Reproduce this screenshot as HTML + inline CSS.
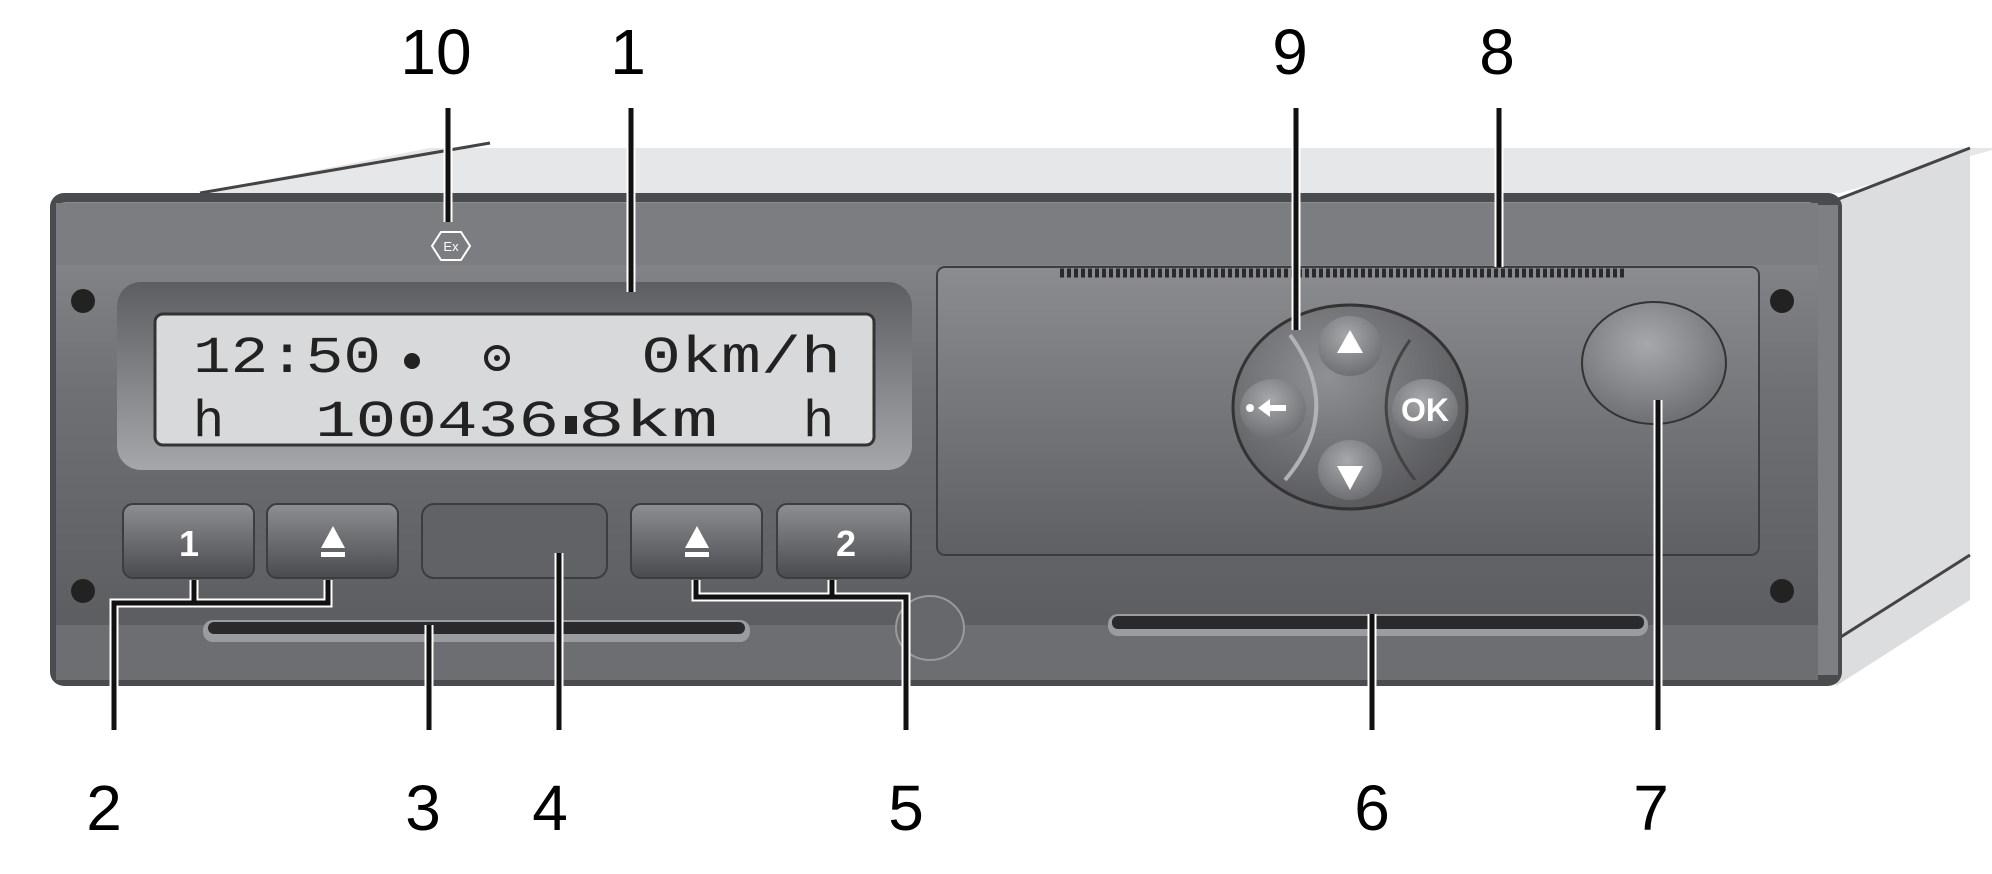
<!DOCTYPE html>
<html><head><meta charset="utf-8"><style>
html,body{margin:0;padding:0;background:#fff;}
svg{display:block}
.lbl{font-family:"Liberation Sans",sans-serif;}
.lcd{font-family:"Liberation Mono",monospace;}
</style></head><body>
<svg width="1992" height="874" viewBox="0 0 1992 874" xmlns="http://www.w3.org/2000/svg">
<defs>
<linearGradient id="face" x1="0" y1="0" x2="0" y2="1">
<stop offset="0" stop-color="#8a8c90"/><stop offset="0.4" stop-color="#6e7074"/><stop offset="1" stop-color="#58595c"/>
</linearGradient>
<linearGradient id="bez" x1="0" y1="0" x2="0" y2="1">
<stop offset="0" stop-color="#5c5e62"/><stop offset="1" stop-color="#a5a7aa"/>
</linearGradient>
<linearGradient id="btn" x1="0" y1="0" x2="0" y2="1">
<stop offset="0" stop-color="#8c8e92"/><stop offset="1" stop-color="#4a4b4e"/>
</linearGradient>
<linearGradient id="pan" x1="0" y1="0" x2="0" y2="1">
<stop offset="0" stop-color="#8a8c90"/><stop offset="1" stop-color="#5e6064"/>
</linearGradient>
<radialGradient id="kp" cx="0.4" cy="0.35" r="0.7">
<stop offset="0" stop-color="#8e9094"/><stop offset="1" stop-color="#56575a"/>
</radialGradient>
<radialGradient id="kb" cx="0.45" cy="0.35" r="0.7">
<stop offset="0" stop-color="#a6a8ab"/><stop offset="1" stop-color="#6a6b6e"/>
</radialGradient>
</defs>
<polygon points="200,193 430,148 1992,148 1992,150 1840,193" fill="#e6e7e8"/>
<line x1="200" y1="193" x2="490" y2="143" stroke="#444" stroke-width="3"/>
<polygon points="1836,200 1970,148 1970,600 1836,686" fill="#dcdddf"/>
<line x1="1836" y1="200" x2="1970" y2="148" stroke="#444" stroke-width="3"/>
<line x1="1836" y1="640" x2="1970" y2="555" stroke="#444" stroke-width="3"/>
<rect x="50" y="193" width="1792" height="493" rx="14" fill="#4a4b4e"/>
<rect x="56" y="202" width="1762" height="478" rx="10" fill="url(#face)"/>
<rect x="56" y="203" width="1762" height="62" fill="#7b7d81"/>
<rect x="56" y="625" width="1762" height="55" fill="#6c6e72"/>
<rect x="1818" y="205" width="20" height="470" fill="#7d7f83"/>
<circle cx="83" cy="301" r="12" fill="#222"/><circle cx="83" cy="591" r="12" fill="#222"/>
<circle cx="1782" cy="301" r="12" fill="#222"/><circle cx="1782" cy="591" r="12" fill="#222"/>
<polygon points="441,232 461,232 470,246 461,260 441,260 432,246" fill="none" stroke="#fff" stroke-width="2"/>
<text class="lbl" x="451" y="251" font-size="13" fill="#fff" text-anchor="middle">Ex</text>
<rect x="117" y="282" width="795" height="188" rx="24" fill="url(#bez)"/>
<rect x="155" y="314" width="719" height="131" rx="8" fill="#d8d9da" stroke="#333" stroke-width="3"/>
<g class="lcd" fill="#222" font-size="52">
<text x="193" y="372" textLength="188" lengthAdjust="spacingAndGlyphs">12:50</text>
<text x="641" y="372" textLength="200" lengthAdjust="spacingAndGlyphs">0km/h</text>
<text x="193" y="436">h</text>
<text x="315" y="436" textLength="244" lengthAdjust="spacingAndGlyphs">100436</text>
<text x="578" y="436" textLength="140" lengthAdjust="spacingAndGlyphs">8km</text>
<text x="803" y="436">h</text>
</g>
<circle cx="412" cy="361" r="8" fill="#222"/>
<circle cx="497" cy="358" r="11" fill="none" stroke="#222" stroke-width="4"/>
<circle cx="497" cy="358" r="3" fill="#222"/>
<rect x="565" y="416" width="12" height="18" fill="#222"/>
<rect x="123" y="504" width="131" height="74" rx="10" fill="url(#btn)" stroke="#3c3d40" stroke-width="2"/>
<rect x="267" y="504" width="131" height="74" rx="10" fill="url(#btn)" stroke="#3c3d40" stroke-width="2"/>
<rect x="422" y="504" width="185" height="74" rx="12" fill="#616266" stroke="#3c3d40" stroke-width="2"/>
<rect x="631" y="504" width="131" height="74" rx="10" fill="url(#btn)" stroke="#3c3d40" stroke-width="2"/>
<rect x="777" y="504" width="134" height="74" rx="10" fill="url(#btn)" stroke="#3c3d40" stroke-width="2"/>
<text class="lbl" x="189" y="556" font-size="36" font-weight="bold" fill="#fff" text-anchor="middle">1</text>
<text class="lbl" x="846" y="556" font-size="36" font-weight="bold" fill="#fff" text-anchor="middle">2</text>
<polygon points="333,526 345,548 321,548" fill="#fff"/><rect x="321" y="552" width="24" height="5" fill="#fff"/>
<polygon points="697,526 709,548 685,548" fill="#fff"/><rect x="685" y="552" width="24" height="5" fill="#fff"/>
<rect x="203" y="620" width="547" height="22" rx="10" fill="#9a9c9f"/>
<rect x="208" y="622" width="537" height="12" rx="6" fill="#2a2a2c"/>
<rect x="1108" y="614" width="540" height="22" rx="10" fill="#9a9c9f"/>
<rect x="1112" y="616" width="532" height="13" rx="6" fill="#2a2a2c"/>
<ellipse cx="930" cy="628" rx="34" ry="32" fill="#66686b" stroke="#999" stroke-width="2"/>
<rect x="937" y="267" width="822" height="288" rx="8" fill="url(#pan)" stroke="#3c3d40" stroke-width="2"/>
<line x1="1060" y1="273" x2="1626" y2="273" stroke="#2a2a2c" stroke-width="9" stroke-dasharray="4,3"/>
<ellipse cx="1350" cy="407" rx="117" ry="102" fill="url(#kp)" stroke="#333" stroke-width="3"/>
<path d="M1290,335 Q1345,410 1285,480" fill="none" stroke="#b0b2b5" stroke-width="4"/>
<path d="M1410,340 Q1360,410 1415,480" fill="none" stroke="#444" stroke-width="3"/>
<ellipse cx="1350" cy="346" rx="32" ry="30" fill="url(#kb)"/>
<ellipse cx="1350" cy="470" rx="32" ry="30" fill="url(#kb)"/>
<ellipse cx="1273" cy="409" rx="33" ry="30" fill="url(#kb)"/>
<ellipse cx="1425" cy="409" rx="33" ry="30" fill="url(#kb)"/>
<polygon points="1350,330 1363,353 1337,353" fill="#fff"/>
<polygon points="1337,466 1363,466 1350,490" fill="#fff"/>
<circle cx="1250" cy="408" r="4" fill="#fff"/>
<polygon points="1258,408 1270,399 1270,417" fill="#fff"/><rect x="1268" y="405" width="18" height="6" fill="#fff"/>
<text class="lbl" x="1425" y="421" font-size="32" font-weight="bold" fill="#fff" text-anchor="middle">OK</text>
<ellipse cx="1654" cy="363" rx="72" ry="61" fill="url(#kb)" stroke="#333" stroke-width="2"/>
<g fill="none" stroke-linejoin="miter">
<g stroke="#fff" stroke-width="9">
<path d="M448,108V222M631,108V292M1296,108V330M1499,108V267M114,730V603H328V580M194,603V580M429,730V625M559,730V553M906,730V597H696V580M832,597V580M1372,730V614M1658,730V400"/>
</g>
<g stroke="#111" stroke-width="5">
<path d="M448,108V222M631,108V292M1296,108V330M1499,108V267M114,730V603H328V580M194,603V580M429,730V625M559,730V553M906,730V597H696V580M832,597V580M1372,730V614M1658,730V400"/>
</g>
</g>
<g class="lbl" font-size="64" fill="#000" text-anchor="middle">
<text x="436" y="74">10</text>
<text x="628" y="74">1</text>
<text x="1290" y="74">9</text>
<text x="1497" y="74">8</text>
<text x="104" y="830">2</text>
<text x="423" y="830">3</text>
<text x="550" y="830">4</text>
<text x="906" y="830">5</text>
<text x="1372" y="830">6</text>
<text x="1651" y="830">7</text>
</g>
</svg>
</body></html>
